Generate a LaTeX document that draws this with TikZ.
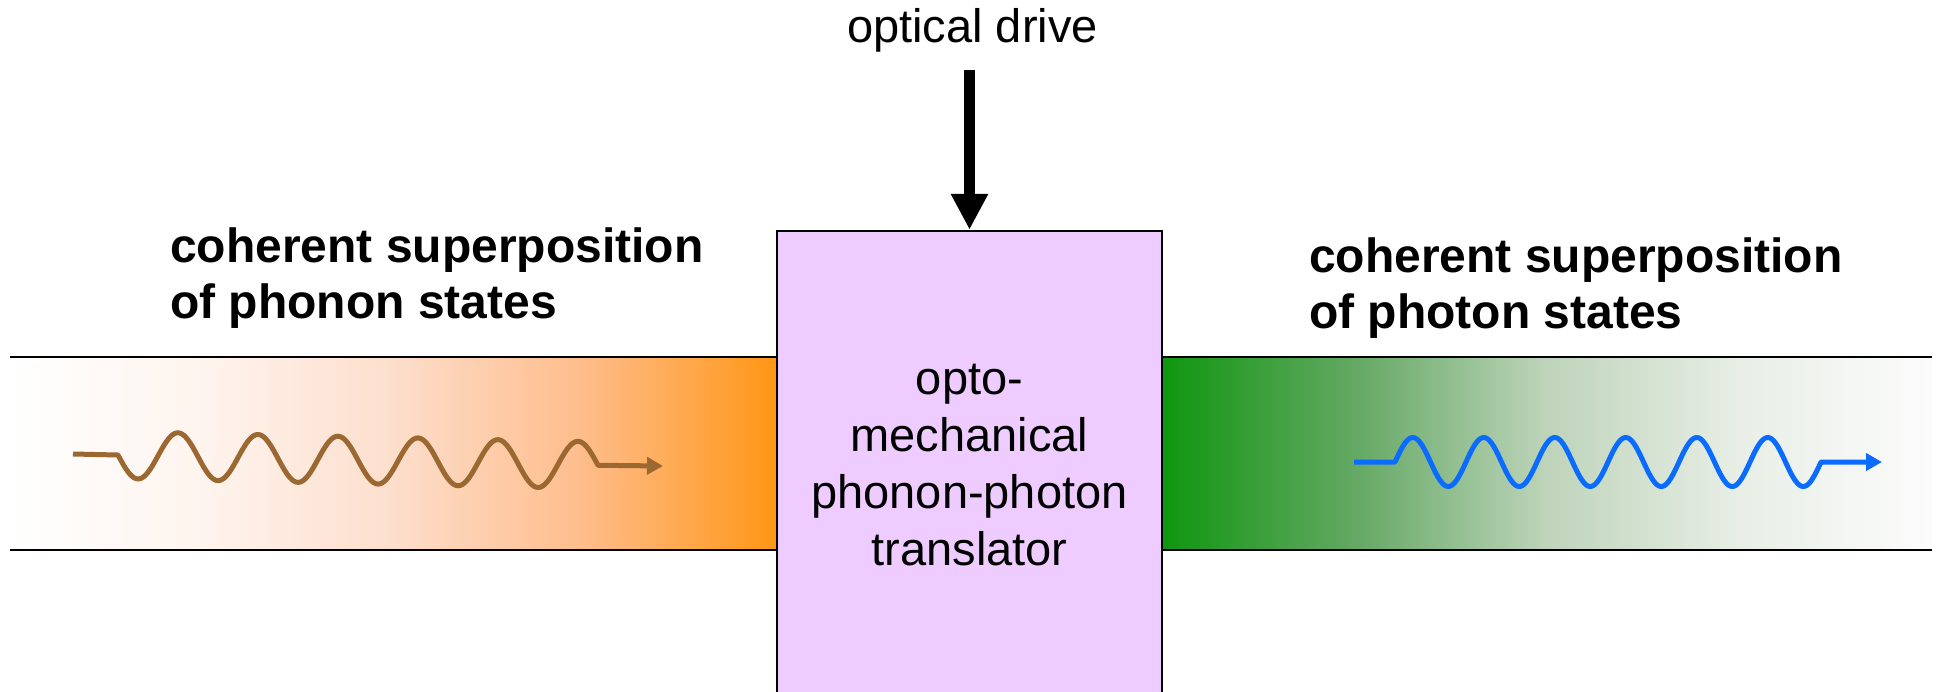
\documentclass[tikz,border=0pt]{standalone}
\usepackage{fontspec}
\setmainfont{Liberation Sans}
\usetikzlibrary{arrows.meta}
\definecolor{boxfill}{RGB}{239,204,255}
\definecolor{phononbrown}{RGB}{155,104,50}
\definecolor{photonblue}{RGB}{10,108,255}
\definecolor{lA}{RGB}{255,255,255}
\definecolor{lB}{RGB}{254,244,238}
\definecolor{lC}{RGB}{253,222,204}
\definecolor{lD}{RGB}{254,188,138}
\definecolor{lE}{RGB}{255,150,20}
\definecolor{rA}{RGB}{15,150,15}
\definecolor{rB}{RGB}{100,168,100}
\definecolor{rC}{RGB}{190,212,186}
\definecolor{rD}{RGB}{232,238,230}
\definecolor{rE}{RGB}{252,252,252}
\pgfdeclarehorizontalshading{phononshade}{100bp}{color(0bp)=(lA); color(25bp)=(lA); color(37.5bp)=(lB); color(50bp)=(lC); color(62.5bp)=(lD); color(75bp)=(lE); color(100bp)=(lE)}
\pgfdeclarehorizontalshading{photonshade}{100bp}{color(0bp)=(rA); color(25bp)=(rA); color(37.5bp)=(rB); color(50bp)=(rC); color(62.5bp)=(rD); color(75bp)=(rE); color(100bp)=(rE)}
\tikzset{
  bandline/.style={line width=2.5pt, black},
  txt/.style={font=\fontsize{47}{57}\selectfont, inner sep=0pt},
  boldtxt/.style={font=\fontsize{48}{56}\selectfont\bfseries, inner sep=0pt, align=left, anchor=north west},
  wave/.style={line width=5pt, line join=round},
}
\begin{document}
\begin{tikzpicture}[x=1pt,y=-1pt]
\useasboundingbox (0,0) rectangle (1939,691);
\clip (0,0) rectangle (1939,691);
% bands
\shade[shading=phononshade] (10,357) rectangle (777,550);
\shade[shading=photonshade] (1162,357) rectangle (1932,550);
\draw[bandline] (10,357) -- (777,357);
\draw[bandline] (10,550) -- (777,550);
\draw[bandline] (1162,357) -- (1932,357);
\draw[bandline] (1162,550) -- (1932,550);
% translator box
\node[draw, line width=2.5pt, fill=boxfill, minimum width=385pt, minimum height=468pt,
      txt, align=center] (box) at (969.5,465)
  {opto-\\mechanical\\phonon-photon\\translator};
% optical drive
\node[txt, anchor=base] (drive) at (972.5,42) {optical drive};
\coordinate (drivestart) at (box.north |- 0,70);
\draw[line width=11pt, -{Triangle[length=36pt,width=35pt]}] (drivestart) -- (box.north);
% labels
\node[boldtxt] (phononlbl) at (170,228) {coherent superposition\\of phonon states};
\node[boldtxt] (photonlbl) at (1309,238) {coherent superposition\\of photon states};
% phonon wave
\coordinate (phin) at (73,454);
\coordinate (phend) at (663,466);
\draw[wave, phononbrown, -{Triangle[length=16pt,width=17pt]}]
  (phin) -- (118,455) -- plot[domain=118:598, samples=241, smooth]
  (\x, {455+0.0214*(\x-118)+23.5*sin(4.5*(\x-118))}) -- (phend);
% photon wave
\coordinate (ptin) at (1354,462);
\coordinate (ptend) at (1882,462);
\draw[wave, photonblue, -{Triangle[length=16pt,width=17pt]}]
  (ptin) -- (1395,462) -- plot[domain=1395:1821, samples=241, smooth]
  (\x, {462-24.5*sin(5.0704*(\x-1395))}) -- (ptend);
\end{tikzpicture}
\end{document}
